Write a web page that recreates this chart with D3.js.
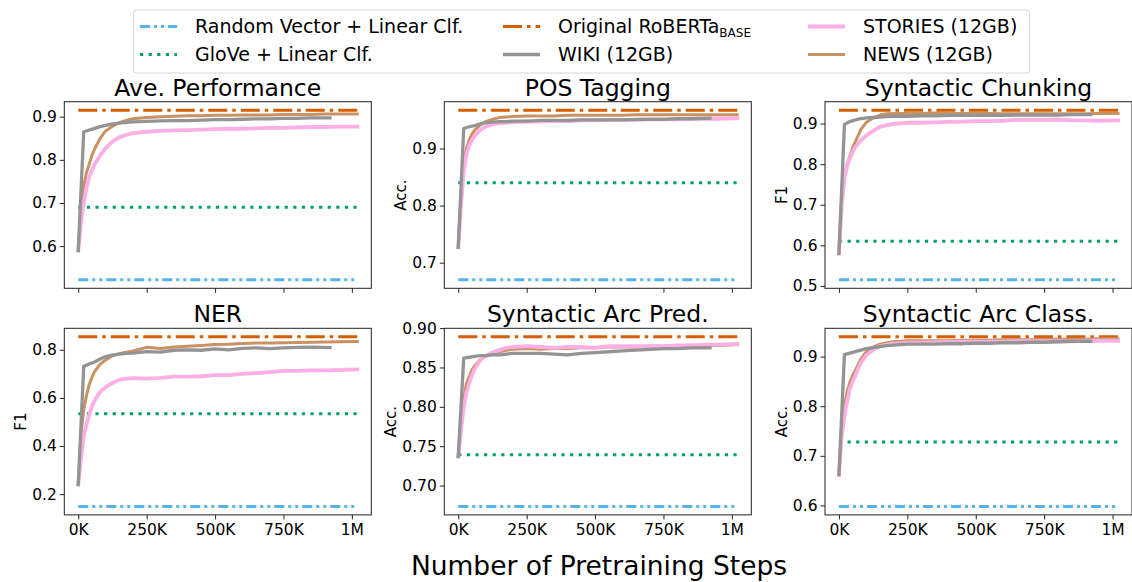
<!DOCTYPE html>
<html><head><meta charset="utf-8">
<script src="https://cdn.jsdelivr.net/npm/d3@7"></script>
<style>
body{margin:0;background:#fff;}
svg text{font-family:"DejaVu Sans",sans-serif;fill:#000;}
</style></head>
<body><svg id="chart" width="1132" height="582"></svg>
<script>
// ---------- data ----------
const titles = ["Ave. Performance","POS Tagging","Syntactic Chunking","NER","Syntactic Arc Pred.","Syntactic Arc Class."];
const yLabels = ["","Acc.","F1","F1","Acc.","Acc."];
const yTicks = [[0.6,0.7,0.8,0.9],[0.7,0.8,0.9],[0.5,0.6,0.7,0.8,0.9],[0.2,0.4,0.6,0.8],[0.70,0.75,0.80,0.85,0.90],[0.6,0.7,0.8,0.9]];
const yTickDecimals = [1,1,1,1,2,1];
const xTickValues = [0,250000,500000,750000,1000000];
const xTickLabels = ["0K","250K","500K","750K","1M"];
const legendNames = ["Random Vector + Linear Clf.","GloVe + Linear Clf.","Original RoBERTa","WIKI (12GB)","STORIES (12GB)","NEWS (12GB)"];

const randomVals  = [0.522, 0.670, 0.515, 0.149, 0.6735, 0.598];
const gloveVals   = [0.690, 0.840, 0.610, 0.534, 0.739, 0.728];
const robertaVals = [0.915, 0.967, 0.933, 0.854, 0.889, 0.940];
const baselineSpanK = [0, 1020];

const stepsK     = [0,10,20,30,40,50,60,80,100,125,150,175,200,250,300,350,400,450,500,550,600,650,700,750,800,850,900,950,1020];
const wikiStepsK = [0,20,40,60,80,100,125,150,175,200,250,300,350,400,450,500,550,600,650,700,750,800,850,920];

const storiesAve = [0.59,0.655,0.70,0.735,0.76,0.776,0.79,0.81,0.827,0.842,0.852,0.858,0.862,0.865,0.867,0.868,0.869,0.870,0.871,0.872,0.872,0.873,0.874,0.874,0.875,0.876,0.876,0.877,0.877];
const newsAve    = [0.59,0.68,0.74,0.77,0.79,0.81,0.825,0.85,0.867,0.878,0.886,0.891,0.895,0.898,0.900,0.901,0.902,0.902,0.903,0.903,0.904,0.904,0.904,0.905,0.905,0.905,0.906,0.906,0.906];
const wikiAve    = [0.59,0.865,0.869,0.873,0.877,0.88,0.883,0.885,0.887,0.888,0.889,0.890,0.891,0.891,0.892,0.893,0.893,0.894,0.895,0.895,0.896,0.896,0.897,0.897];

const storiesPos = [0.727,0.80,0.86,0.89,0.905,0.915,0.922,0.932,0.938,0.942,0.944,0.945,0.946,0.947,0.947,0.948,0.948,0.949,0.949,0.950,0.950,0.950,0.951,0.951,0.951,0.952,0.952,0.952,0.953];
const newsPos    = [0.727,0.82,0.875,0.90,0.915,0.925,0.932,0.941,0.947,0.951,0.954,0.955,0.956,0.957,0.957,0.957,0.958,0.958,0.958,0.958,0.958,0.959,0.959,0.959,0.959,0.959,0.959,0.959,0.959];
const wikiPos    = [0.727,0.935,0.938,0.940,0.943,0.945,0.946,0.947,0.947,0.948,0.948,0.949,0.949,0.949,0.950,0.950,0.950,0.950,0.951,0.951,0.951,0.952,0.952,0.953];

const storiesChunk = [0.58,0.70,0.765,0.795,0.815,0.83,0.842,0.858,0.871,0.882,0.892,0.896,0.899,0.902,0.902,0.903,0.904,0.905,0.906,0.906,0.907,0.909,0.909,0.909,0.910,0.908,0.908,0.907,0.908];
const newsChunk    = [0.58,0.71,0.775,0.80,0.82,0.84,0.855,0.885,0.903,0.914,0.921,0.924,0.925,0.925,0.925,0.926,0.925,0.925,0.925,0.925,0.924,0.924,0.924,0.924,0.924,0.924,0.924,0.925,0.925];
const wikiChunk    = [0.58,0.898,0.905,0.909,0.912,0.914,0.915,0.916,0.917,0.918,0.918,0.919,0.919,0.92,0.92,0.92,0.92,0.92,0.921,0.921,0.921,0.921,0.922,0.922];

const storiesNer = [0.24,0.35,0.44,0.49,0.53,0.565,0.59,0.625,0.645,0.662,0.675,0.68,0.682,0.68,0.683,0.688,0.688,0.69,0.695,0.695,0.70,0.703,0.707,0.712,0.712,0.714,0.714,0.716,0.718];
const newsNer    = [0.24,0.45,0.55,0.61,0.655,0.685,0.71,0.74,0.758,0.775,0.784,0.79,0.795,0.81,0.805,0.812,0.815,0.818,0.822,0.823,0.826,0.828,0.828,0.829,0.83,0.831,0.832,0.833,0.834];
const wikiNer    = [0.24,0.731,0.741,0.749,0.762,0.772,0.778,0.782,0.785,0.786,0.792,0.79,0.798,0.80,0.798,0.804,0.80,0.806,0.808,0.805,0.808,0.81,0.811,0.809];

const storiesArcP = [0.737,0.77,0.80,0.818,0.83,0.84,0.848,0.859,0.865,0.869,0.872,0.875,0.876,0.877,0.876,0.875,0.876,0.876,0.875,0.877,0.877,0.877,0.877,0.877,0.878,0.878,0.879,0.879,0.880];
const newsArcP    = [0.737,0.79,0.81,0.83,0.838,0.847,0.852,0.86,0.864,0.868,0.870,0.872,0.873,0.874,0.873,0.874,0.874,0.875,0.875,0.876,0.876,0.876,0.877,0.877,0.877,0.877,0.878,0.878,0.879];
const wikiArcP    = [0.737,0.862,0.863,0.864,0.865,0.865,0.866,0.866,0.867,0.868,0.868,0.868,0.867,0.866,0.868,0.869,0.870,0.871,0.872,0.873,0.874,0.874,0.875,0.875];

const storiesArcC = [0.662,0.74,0.78,0.81,0.835,0.85,0.862,0.888,0.903,0.914,0.921,0.924,0.926,0.928,0.928,0.929,0.929,0.93,0.93,0.93,0.93,0.931,0.931,0.931,0.931,0.931,0.932,0.932,0.932];
const newsArcC    = [0.662,0.76,0.80,0.83,0.848,0.862,0.872,0.895,0.91,0.919,0.925,0.928,0.93,0.932,0.932,0.932,0.932,0.933,0.933,0.933,0.934,0.934,0.934,0.935,0.935,0.935,0.935,0.936,0.936];
const wikiArcC    = [0.662,0.904,0.907,0.91,0.913,0.916,0.918,0.92,0.922,0.923,0.925,0.925,0.925,0.926,0.926,0.927,0.927,0.928,0.928,0.929,0.929,0.93,0.931,0.931];

const storiesAll = [storiesAve, storiesPos, storiesChunk, storiesNer, storiesArcP, storiesArcC];
const newsAll    = [newsAve, newsPos, newsChunk, newsNer, newsArcP, newsArcC];
const wikiAll    = [wikiAve, wikiPos, wikiChunk, wikiNer, wikiArcP, wikiArcC];

// ---------- styles ----------
const C = {random:"#56B4E9", glove:"#029E73", roberta:"#D55E00", wiki:"#949494", stories:"#FBAFE4", news:"#CA9161"};
const dash = {random:"10,4,3,4,3,4", glove:"3.2,5.4", roberta:"19,5,3.5,5"};

const svg = d3.select("#chart");
const colLeft = [64.3, 444.3, 825.0];
const rowTop = [101.7, 328.3];
const pw = 307.0, ph = 186.6;

const xScaleBase = d3.scaleLinear().domain([-51000, 1071000]);

for (let i = 0; i < 6; i++) {
  const col = i % 3, row = Math.floor(i / 3);
  const L = colLeft[col], T = rowTop[row];
  const g = svg.append("g").attr("transform", `translate(${L},${T})`);
  const x = xScaleBase.copy().range([0, pw]);
  const allVals = [randomVals[i], gloveVals[i], robertaVals[i], ...storiesAll[i], ...newsAll[i], ...wikiAll[i]];
  const [mn, mx] = d3.extent(allVals);
  const pad = (mx - mn) * 0.05;
  const y = d3.scaleLinear().domain([mn - pad, mx + pad]).range([ph, 0]);

  const clipId = "clip" + i;
  g.append("clipPath").attr("id", clipId).append("rect").attr("width", pw).attr("height", ph);
  const plot = g.append("g").attr("clip-path", `url(#${clipId})`);

  const line = d3.line().x(d => x(d[0])).y(d => y(d[1]));
  const hline = (v, color, da) => {
    plot.append("path").attr("d", line(baselineSpanK.map(k => [k * 1000, v])))
      .attr("fill", "none").attr("stroke", color).attr("stroke-width", 3)
      .attr("stroke-dasharray", da);
  };
  hline(randomVals[i], C.random, dash.random);
  hline(gloveVals[i], C.glove, dash.glove);
  hline(robertaVals[i], C.roberta, dash.roberta);

  plot.append("path").attr("d", line(stepsK.map((k, j) => [k * 1000, newsAll[i][j]])))
    .attr("fill", "none").attr("stroke", C.news).attr("stroke-width", 3).attr("stroke-linejoin", "round").attr("stroke-linecap", "square");
  plot.append("path").attr("d", line(stepsK.map((k, j) => [k * 1000, storiesAll[i][j]])))
    .attr("fill", "none").attr("stroke", C.stories).attr("stroke-width", 3.8).attr("stroke-linejoin", "round").attr("stroke-linecap", "square");
  plot.append("path").attr("d", line(wikiStepsK.map((k, j) => [k * 1000, wikiAll[i][j]])))
    .attr("fill", "none").attr("stroke", C.wiki).attr("stroke-width", 3.3).attr("stroke-linejoin", "round").attr("stroke-linecap", "square");

  // axes
  const fmt = d3.format("." + yTickDecimals[i] + "f");
  const yAxis = g.append("g").call(d3.axisLeft(y).tickValues(yTicks[i]).tickFormat(fmt).tickSize(4.5).tickPadding(3));
  yAxis.select(".domain").remove();
  yAxis.selectAll("text").attr("font-size", 15.5).attr("font-family", "DejaVu Sans");
  const xAxis = g.append("g").attr("transform", `translate(0,${ph})`)
    .call(d3.axisBottom(x).tickValues(xTickValues).tickFormat((d, k) => row === 1 ? xTickLabels[k] : "").tickSize(4.5).tickPadding(5));
  xAxis.select(".domain").remove();
  xAxis.selectAll("text").attr("font-size", 15.5).attr("font-family", "DejaVu Sans");
  g.selectAll(".tick line").attr("stroke", "#222").attr("stroke-width", 1);

  g.append("rect").attr("width", pw).attr("height", ph).attr("fill", "none").attr("stroke", "#222").attr("stroke-width", 1);

  g.append("text").attr("x", pw / 2).attr("y", -6).attr("text-anchor", "middle")
    .attr("font-size", 23.5).text(titles[i]);
  if (yLabels[i]) {
    const lx = (i === 4) ? -48 : -38;
    g.append("text").attr("transform", `translate(${lx},${ph / 2}) rotate(-90)`)
      .attr("text-anchor", "middle").attr("font-size", 15).text(yLabels[i]);
  }
}

svg.append("text").attr("x", 599).attr("y", 575).attr("text-anchor", "middle")
  .attr("font-size", 26.5).text("Number of Pretraining Steps");

// ---------- legend ----------
const lg = svg.append("g");
lg.append("rect").attr("x", 133.5).attr("y", 10).attr("width", 896).attr("height", 63).attr("rx", 3)
  .attr("fill", "#fff").attr("fill-opacity", 0.8).attr("stroke", "#d6d6d6").attr("stroke-width", 1);
const legendKeys = ["random","glove","roberta","wiki","stories","news"];
const legendWidths = {random:3, glove:3, roberta:3, wiki:3.3, stories:3.8, news:3};
const colX = [140, 503, 808];
const rowY = [26.5, 54.5];
legendKeys.forEach((k, idx) => {
  const cx = colX[Math.floor(idx / 2)], cy = rowY[idx % 2];
  lg.append("line").attr("x1", cx).attr("x2", cx + 37).attr("y1", cy).attr("y2", cy)
    .attr("stroke", C[k]).attr("stroke-width", legendWidths[k]).attr("stroke-dasharray", dash[k] || null);
  const t = lg.append("text").attr("x", cx + 55).attr("y", cy + 6.5).attr("font-size", 19);
  t.append("tspan").text(legendNames[idx]);
  if (k === "roberta") t.append("tspan").attr("font-size", 12).attr("dy", 4).text("BASE");
});
</script></body></html>
